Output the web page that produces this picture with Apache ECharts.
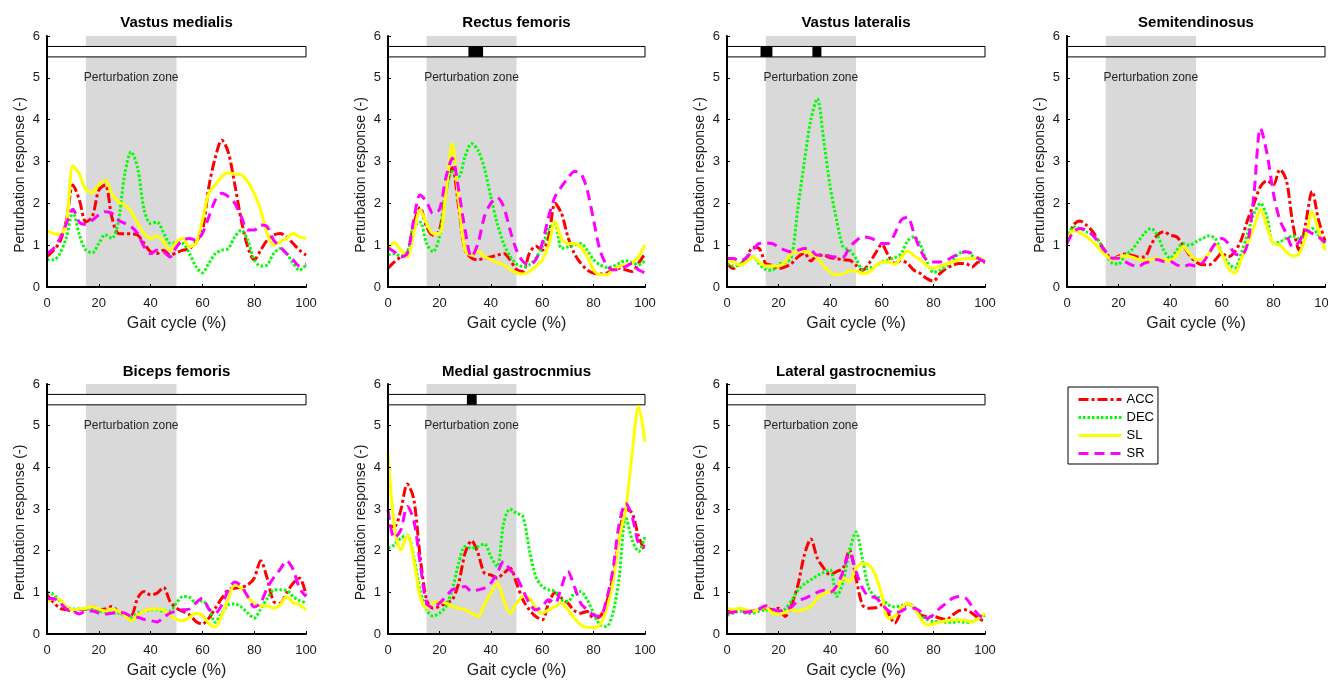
<!DOCTYPE html>
<html><head><meta charset="utf-8">
<script src="https://cdn.jsdelivr.net/npm/echarts@6/dist/echarts.min.js"></script>
<style>html,body{margin:0;padding:0;background:#fff}#c{width:1328px;height:682px}</style>
</head><body><div id="c"></div>
<script>
// ---- data ----
const gait = [0,2.5,5,7.5,10,12.5,15,17.5,20,22.5,25,27.5,30,32.5,35,37.5,40,42.5,45,47.5,50,52.5,55,57.5,60,62.5,65,67.5,70,72.5,75,77.5,80,82.5,85,87.5,90,92.5,95,97.5,100];
const muscles = ['Vastus medialis','Rectus femoris','Vastus lateralis','Semitendinosus','Biceps femoris','Medial gastrocnmius','Lateral gastrocnemius'];
const conditions = ['ACC','DEC','SL','SR'];
const xTicks = [0,20,40,60,80,100];
const yTicks = [0,1,2,3,4,5,6];
const perturbationZone = [15,50];
const sigBarRange = [5.5,5.75];

const vmACC = [0.73,0.88,1.08,1.6,2.44,2.08,1.56,1.68,2.32,2.44,1.68,1.28,1.27,1.27,1.24,1.04,0.84,0.8,0.88,0.76,0.82,0.88,0.92,1.08,1.35,2.4,3.1,3.51,3.22,2.45,1.6,0.96,0.65,0.88,1.12,1.24,1.28,1.2,1.04,0.88,0.76];
const vmDEC = [0.65,0.65,0.8,1.2,1.8,1.25,0.88,0.82,1.04,1.25,1.16,1.55,2.7,3.23,2.85,1.85,1.52,1.55,1.3,1.05,1.05,1.04,0.8,0.49,0.34,0.57,0.8,0.88,0.92,1.2,1.36,1.12,0.65,0.5,0.53,0.8,0.92,0.8,0.57,0.4,0.53];
const vmSL  = [1.35,1.28,1.25,1.52,2.9,2.7,2.32,2.26,2.44,2.54,2.24,2.04,1.96,1.8,1.52,1.28,1.16,1.22,1.08,0.88,1.08,1.16,0.96,1.04,1.6,2.24,2.44,2.64,2.73,2.7,2.68,2.52,2.24,1.84,1.28,1.0,1.08,1.16,1.28,1.2,1.16];
const vmSR  = [0.8,0.92,1.16,1.52,1.86,1.55,1.5,1.6,1.72,1.8,1.76,1.6,1.52,1.44,1.28,0.96,0.8,0.88,0.84,0.72,0.96,1.12,1.16,1.12,1.28,1.68,2.08,2.24,2.16,2.0,1.68,1.36,1.36,1.48,1.44,1.12,0.96,0.8,0.65,0.5,0.55];

const rfACC = [0.45,0.6,0.72,0.78,1.5,1.9,1.44,1.24,1.35,2.3,2.85,1.92,0.88,0.69,0.65,0.69,0.72,0.76,0.8,0.65,0.42,0.37,0.8,0.98,0.88,1.2,2.0,1.76,1.2,0.8,0.57,0.41,0.33,0.31,0.33,0.41,0.45,0.41,0.37,0.57,0.8];
const rfDEC = [0.77,0.79,0.74,0.84,1.44,1.55,1.04,0.84,1.2,2.24,2.76,2.64,3.12,3.43,3.27,2.84,2.16,1.52,1.04,0.73,0.55,0.49,0.53,0.69,0.96,1.4,1.5,0.92,0.96,1.0,1.04,0.88,0.65,0.53,0.47,0.49,0.57,0.63,0.58,0.53,0.63];
const rfSL  = [0.92,1.06,0.88,0.72,1.28,1.84,1.52,1.28,1.28,2.24,3.43,2.08,0.88,0.76,0.86,0.73,0.66,0.58,0.53,0.42,0.34,0.31,0.37,0.49,0.65,1.0,1.56,1.16,1.04,1.04,0.96,0.73,0.41,0.29,0.29,0.41,0.49,0.53,0.57,0.73,1.0];
const rfSR  = [0.94,0.84,0.72,0.8,1.6,2.2,2.04,1.76,1.85,2.6,3.08,2.32,1.36,0.72,1.04,1.68,2.0,2.14,1.92,1.36,0.88,0.61,0.53,0.65,1.04,1.68,2.16,2.4,2.6,2.76,2.72,2.32,1.6,0.88,0.53,0.41,0.42,0.49,0.57,0.41,0.34];

const vlACC = [0.56,0.44,0.55,0.68,0.95,0.92,0.56,0.52,0.44,0.48,0.56,0.72,0.81,0.62,0.76,0.76,0.7,0.68,0.65,0.64,0.52,0.4,0.56,0.8,1.02,0.76,0.56,0.64,0.56,0.4,0.32,0.2,0.14,0.32,0.44,0.52,0.56,0.56,0.48,0.6,0.6];
const vlDEC = [0.55,0.5,0.55,0.65,0.72,0.55,0.42,0.4,0.55,0.58,0.72,1.9,3.0,4.0,4.5,3.5,2.4,1.6,0.96,0.88,0.68,0.42,0.45,0.5,0.6,0.65,0.7,0.8,1.1,1.2,1.0,0.6,0.35,0.4,0.5,0.65,0.8,0.85,0.75,0.65,0.62];
const vlSL  = [0.62,0.6,0.52,0.6,0.72,0.6,0.5,0.5,0.5,0.6,0.8,0.85,0.85,0.8,0.7,0.5,0.35,0.29,0.32,0.38,0.38,0.32,0.35,0.5,0.6,0.6,0.55,0.7,0.86,0.75,0.65,0.5,0.45,0.5,0.55,0.6,0.65,0.68,0.68,0.7,0.62];
const vlSR  = [0.68,0.68,0.62,0.7,0.88,1.04,1.05,1.04,0.95,0.88,0.84,0.88,0.92,0.88,0.76,0.78,0.73,0.72,0.72,0.95,1.1,1.2,1.18,1.12,1.04,1.04,1.27,1.6,1.67,1.27,0.88,0.64,0.6,0.6,0.64,0.72,0.8,0.84,0.8,0.68,0.6];

const stACC = [1.08,1.48,1.58,1.48,1.32,1.08,0.84,0.66,0.74,0.79,0.76,0.72,0.72,1.0,1.24,1.32,1.24,1.2,1.0,0.76,0.6,0.53,0.53,0.65,0.8,0.72,0.84,1.12,1.6,2.0,2.4,2.54,2.44,2.81,2.56,1.52,0.88,1.52,2.29,1.6,1.1];
const stDEC = [1.16,1.44,1.4,1.32,1.24,1.08,0.8,0.57,0.55,0.76,0.88,1.08,1.28,1.4,1.24,0.88,0.69,0.88,1.04,1.0,1.08,1.16,1.22,1.16,0.8,0.57,0.45,0.8,1.28,1.76,2.0,1.68,1.04,1.08,1.16,1.22,1.16,1.28,1.4,1.24,1.04];
const stSL  = [1.12,1.35,1.3,1.2,1.08,0.92,0.76,0.66,0.71,0.74,0.72,0.66,0.63,0.65,0.69,0.65,0.63,0.76,0.96,0.8,0.66,0.65,0.8,1.03,0.8,0.45,0.33,0.65,1.04,1.44,1.86,1.44,1.04,1.0,0.84,0.74,0.8,1.2,1.8,1.36,0.88];
const stSR  = [1.04,1.32,1.4,1.36,1.24,1.04,0.84,0.69,0.69,0.61,0.53,0.49,0.57,0.61,0.66,0.61,0.61,0.53,0.49,0.53,0.5,0.57,0.8,1.04,1.16,1.04,0.8,0.76,1.04,2.24,3.8,3.2,2.24,1.6,1.28,0.96,1.08,1.36,1.28,1.2,1.06];

const bfACC = [0.94,0.76,0.62,0.58,0.56,0.58,0.6,0.66,0.58,0.6,0.66,0.54,0.46,0.45,0.86,1.02,0.94,0.98,1.12,0.78,0.62,0.54,0.46,0.3,0.24,0.38,0.62,0.86,1.06,1.1,1.12,1.18,1.34,1.76,1.34,0.78,0.74,0.98,1.22,1.34,0.94];
const bfDEC = [1.0,0.95,0.78,0.65,0.6,0.6,0.6,0.58,0.55,0.52,0.5,0.5,0.45,0.4,0.5,0.55,0.58,0.58,0.55,0.55,0.75,0.9,0.88,0.75,0.8,0.6,0.28,0.5,0.7,0.72,0.65,0.5,0.38,0.6,0.85,1.05,1.06,1.05,0.9,0.8,0.75];
const bfSL  = [0.78,0.85,0.82,0.65,0.58,0.6,0.62,0.66,0.6,0.55,0.6,0.55,0.45,0.32,0.45,0.55,0.6,0.6,0.58,0.45,0.35,0.32,0.4,0.5,0.45,0.25,0.17,0.45,0.85,1.18,1.1,0.9,0.72,0.68,0.68,0.62,0.7,0.9,0.75,0.7,0.58];
const bfSR  = [0.85,0.85,0.75,0.6,0.55,0.48,0.55,0.55,0.5,0.48,0.5,0.52,0.5,0.42,0.4,0.35,0.32,0.29,0.4,0.5,0.55,0.58,0.6,0.75,0.86,0.6,0.5,0.7,1.05,1.25,1.15,0.9,0.65,0.75,1.1,1.35,1.55,1.76,1.55,1.1,0.9];

const mgACC = [2.6,2.58,2.98,3.6,3.25,1.86,0.82,0.62,0.66,0.74,0.82,1.22,1.94,2.24,1.94,1.46,1.42,1.34,1.46,1.58,1.22,0.82,0.58,0.42,0.34,0.74,0.99,0.86,0.74,0.56,0.5,0.54,0.38,0.42,0.74,1.38,2.34,3.0,2.9,2.34,1.98];
const mgDEC = [2.06,2.14,2.3,2.37,1.86,1.06,0.58,0.43,0.5,0.66,1.06,1.7,2.1,2.06,2.1,2.16,1.86,1.62,2.66,3.0,2.9,2.82,2.02,1.38,1.14,1.06,1.02,0.82,0.78,0.98,1.02,0.82,0.5,0.22,0.18,0.5,1.38,2.82,2.26,1.98,2.34];
const mgSL  = [4.34,2.58,2.02,2.37,1.78,0.9,0.62,0.74,0.78,0.74,0.66,0.62,0.58,0.5,0.42,0.7,0.98,1.22,0.82,0.5,0.74,0.9,0.86,0.62,0.5,0.58,0.66,0.74,0.58,0.38,0.22,0.16,0.16,0.22,0.58,1.22,2.34,3.0,4.34,5.46,4.62];
const mgSR  = [2.98,2.3,2.5,3.06,2.74,1.7,0.74,0.64,0.74,0.9,1.06,1.1,1.14,1.02,1.06,1.1,1.22,1.46,1.74,1.54,1.38,1.06,0.74,0.58,0.66,0.82,0.74,1.14,1.5,1.14,0.74,0.58,0.46,0.42,0.82,1.54,2.66,3.14,2.82,2.18,2.1];

const lgACC = [0.55,0.55,0.6,0.55,0.55,0.6,0.62,0.58,0.62,0.42,0.7,1.18,1.9,2.28,1.82,1.58,1.42,1.5,1.58,2.02,1.34,0.7,0.62,0.63,0.7,0.5,0.26,0.54,0.74,0.62,0.46,0.42,0.42,0.38,0.34,0.46,0.56,0.58,0.5,0.38,0.29];
const lgDEC = [0.45,0.5,0.55,0.5,0.5,0.55,0.58,0.55,0.55,0.6,0.8,1.05,1.2,1.3,1.4,1.48,1.54,0.9,1.25,2.0,2.45,1.8,1.1,0.9,0.85,0.7,0.65,0.68,0.72,0.65,0.45,0.35,0.3,0.3,0.28,0.28,0.3,0.28,0.3,0.38,0.45];
const lgSL  = [0.62,0.58,0.62,0.58,0.55,0.6,0.65,0.5,0.48,0.52,0.58,0.55,0.6,0.66,0.86,0.98,1.02,1.1,1.34,1.26,1.58,1.7,1.66,1.42,0.94,0.38,0.42,0.62,0.74,0.62,0.38,0.22,0.24,0.29,0.32,0.34,0.34,0.33,0.29,0.38,0.5];
const lgSR  = [0.5,0.52,0.55,0.52,0.55,0.6,0.68,0.6,0.55,0.6,0.65,0.8,0.85,0.92,1.0,1.05,1.0,1.15,1.5,1.95,1.5,1.1,0.9,0.88,0.72,0.56,0.5,0.55,0.62,0.62,0.54,0.38,0.46,0.62,0.74,0.86,0.9,0.86,0.66,0.46,0.38];

// significance markers (gait % ranges)
const vmSig = [];
const rfSig = [[31.3,37.0]];
const vlSig = [[13.0,17.6],[33.1,36.6]];
const stSig = [];
const bfSig = [];
const mgSig = [[30.7,34.5]];
const lgSig = [];

const panelData = [
  [vmACC,vmDEC,vmSL,vmSR],[rfACC,rfDEC,rfSL,rfSR],[vlACC,vlDEC,vlSL,vlSR],[stACC,stDEC,stSL,stSR],
  [bfACC,bfDEC,bfSL,bfSR],[mgACC,mgDEC,mgSL,mgSR],[lgACC,lgDEC,lgSL,lgSR]
];
const panelSig = [vmSig,rfSig,vlSig,stSig,bfSig,mgSig,lgSig];

// ---- layout & style ----
const FONT = 'Arial, "Liberation Sans", Helvetica, sans-serif';
const boxes = [[47,36,259,251],[388,36,257,251],[727,36,258,251],[1067,36,258,251],
               [47,384,259,250],[388,384,257,250],[727,384,258,250]];
const styles = {
  ACC:{color:'#ff0000', type:[10,3,3,3]},
  DEC:{color:'#00ff00', type:[2.5,2]},
  SL:{color:'#ffff00', type:'solid'},
  SR:{color:'#ff00ff', type:[10,6]}
};

function rectRender(params, api){
  const a = api.coord([api.value(0), api.value(3)]);
  const b = api.coord([api.value(1), api.value(2)]);
  const kind = api.value(4);
  let style;
  if (kind === 0) style = {fill:'#d9d9d9'};
  else if (kind === 1) style = {fill:'#ffffff', stroke:'#000', lineWidth:1};
  else style = {fill:'#000000'};
  return {type:'rect', shape:{x:a[0], y:a[1], width:b[0]-a[0], height:b[1]-a[1]}, style};
}
function textRender(params, api){
  const p = api.coord([api.value(0), api.value(1)]);
  return {type:'text', x:p[0], y:p[1], style:{text:'Perturbation zone', fill:'#262626', fontSize:12, fontFamily:FONT, align:'center', verticalAlign:'middle'}};
}

const grid=[], xAxis=[], yAxis=[], series=[], title=[];
boxes.forEach((b,i)=>{
  grid.push({left:b[0], top:b[1], width:b[2], height:b[3], containLabel:false, outerBoundsMode:'none'});
  title.push({text:muscles[i], left:b[0]+b[2]/2, top:(i<4?15:364), textAlign:'center', padding:0,
    textStyle:{fontSize:15, fontWeight:'bold', color:'#000', fontFamily:FONT}});
  xAxis.push({gridIndex:i, type:'value', min:xTicks[0], max:xTicks[xTicks.length-1], interval:20,
    name:'Gait cycle (%)', nameLocation:'middle', nameGap:29,
    nameTextStyle:{fontSize:16, color:'#1a1a1a', fontFamily:FONT},
    axisLine:{lineStyle:{color:'#000', width:2}}, axisTick:{inside:true, length:3, lineStyle:{color:'#000'}},
    axisLabel:{fontSize:13, color:'#1a1a1a', margin:10, fontFamily:FONT, hideOverlap:false}, splitLine:{show:false}, z:10});
  yAxis.push({gridIndex:i, type:'value', min:yTicks[0], max:yTicks[yTicks.length-1], interval:1,
    name:'Perturbation response (-)', nameLocation:'middle', nameGap:20,
    nameTextStyle:{fontSize:14, color:'#1a1a1a', fontFamily:FONT, padding:[0,27,0,0]},
    axisLine:{show:true, lineStyle:{color:'#000', width:2}}, axisTick:{show:true, inside:true, length:3, lineStyle:{color:'#000'}},
    axisLabel:{fontSize:13, color:'#1a1a1a', margin:7, fontFamily:FONT}, splitLine:{show:false}, z:10});
  const rects = [[perturbationZone[0], perturbationZone[1], yTicks[0], yTicks[yTicks.length-1], 0],
                 [xTicks[0], xTicks[xTicks.length-1], sigBarRange[0], sigBarRange[1], 1]];
  panelSig[i].forEach(s=>rects.push([s[0], s[1], sigBarRange[0], sigBarRange[1], 2]));
  series.push({type:'custom', xAxisIndex:i, yAxisIndex:i, renderItem:rectRender, data:rects, silent:true, z:1, clip:false});
  series.push({type:'custom', xAxisIndex:i, yAxisIndex:i, renderItem:textRender,
    data:[[(perturbationZone[0]+perturbationZone[1])/2, 5.0]], silent:true, z:2});
  conditions.forEach((c,k)=>{
    const vals = panelData[i][k];
    series.push({name:c, type:'line', xAxisIndex:i, yAxisIndex:i, symbol:'none', showSymbol:false,
      smooth:0.3, z:3+k,
      lineStyle:{color:styles[c].color, width:3, type:styles[c].type, cap:'butt'},
      itemStyle:{color:styles[c].color},
      data: gait.map((g,j)=>[g, vals[j]])});
  });
});

const chart = echarts.init(document.getElementById('c'), null, {renderer:'canvas'});
chart.setOption({
  animation:false,
  backgroundColor:'#ffffff',
  title, grid, xAxis, yAxis, series,
  legend:{data:conditions, orient:'vertical', left:1068, top:387, itemWidth:43, itemHeight:14, itemGap:5,
    padding:[6,4,4,9], borderColor:'#000', borderWidth:1, selectedMode:false,
    itemStyle:{opacity:0, borderWidth:0}, lineStyle:{width:3},
    textStyle:{fontSize:13, color:'#000', fontFamily:FONT}}
});
</script></body></html>
